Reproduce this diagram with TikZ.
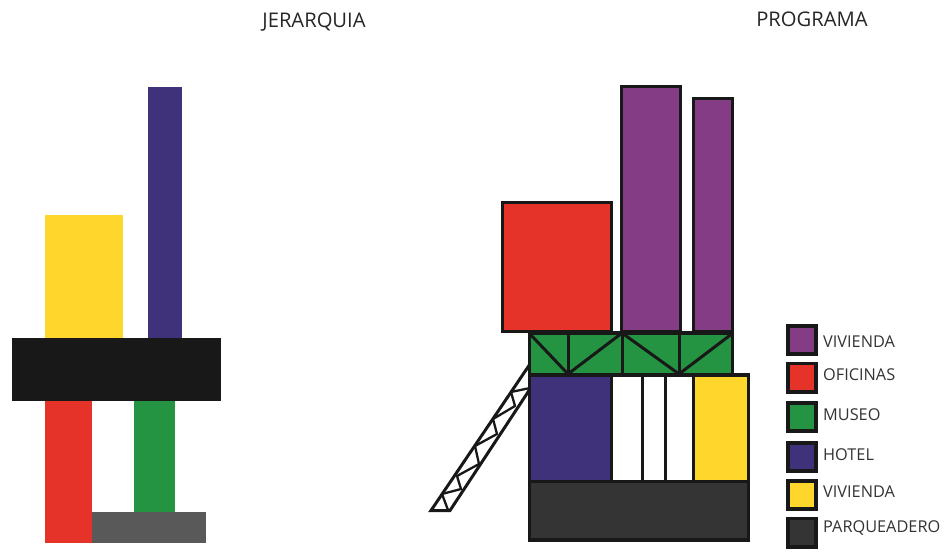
\documentclass[tikz,border=0pt]{standalone}
\usepackage{fontspec}
\setmainfont{Open Sans}
\definecolor{cyel}{HTML}{FFD62B}
\definecolor{cblu}{HTML}{3F327A}
\definecolor{cblk}{HTML}{181818}
\definecolor{cred}{HTML}{E5332A}
\definecolor{cgrn}{HTML}{249443}
\definecolor{cgry}{HTML}{595959}
\definecolor{cpur}{HTML}{843C85}
\definecolor{cdrk}{HTML}{343434}
\tikzset{
 bl/.style={draw=cblk,line width=3.2pt,line join=miter},
 thin line/.style={draw=cblk,line width=3pt},
 ttl/.style={font=\fontsize{20.2}{22}\selectfont,text=black!85,inner sep=0pt},
 leg/.style={font=\fontsize{16.3}{18}\selectfont,text=black!80,anchor=west,inner sep=0pt},
 sw/.style={draw=cblk,line width=3.6pt,minimum width=28.4pt,minimum height=28.4pt,inner sep=0pt},
}
\begin{document}
\begin{tikzpicture}[x=1pt,y=-1pt]
\useasboundingbox (0,0) rectangle (944,552);
\node[ttl] (t1) at (314,22) {JERARQUIA};
\node[ttl] (t2) at (812,19) {PROGRAMA};
% left
\fill[cyel] (45,215) rectangle (123,338);
\fill[cblu] (148,87) rectangle (182,338);
\fill[cred] (45,401) rectangle (92,543);
\fill[cgrn] (134,401) rectangle (175,512);
\fill[cgry] (92,512) rectangle (206,543);
\fill[cblk] (12,338) rectangle (221,401);
% ladder
\coordinate (la) at (530,364);
\coordinate (lb) at (431,510.5);
\coordinate (lc) at (450,510.5);
\coordinate (ld) at (530,389);
\draw[thin line,line join=miter] (la)--(lb)--(lc)--(ld);
\draw[draw=cblk,line width=2.3pt,line join=round] (448,510)--(442,494)--(461,489)--(457,476)--(479,464)--(475,446)--(497,434)--(493,419)--(515,406)--(511,392)--(530,388);
% right
\path[bl,fill=cred] (502.5,202.5) rectangle (611.5,331.5);
\path[bl,fill=cpur] (621.5,86.5) rectangle (680.5,331.5);
\path[bl,fill=cpur] (693.5,98.5) rectangle (732.5,331.5);
\path[bl,fill=cgrn] (529.5,333) rectangle (732.5,375);
\draw[thin line] (568,333)--(568,374) (622,333)--(622,374) (679,333)--(679,374);
\draw[thin line,line join=miter] (529,333)--(568,374)--(622,333)--(679,374)--(733,333);
\path[bl,fill=white] (529.5,375) rectangle (748.5,540);
\path[fill=cblu] (531,376.5) rectangle (610,481);
\path[fill=cyel] (693,376.5) rectangle (747,481);
\path[fill=cdrk] (531,481) rectangle (747,538.5);
\draw[bl] (529.5,375) rectangle (748.5,540);
\draw[thin line] (531,481)--(747,481);
\draw[thin line] (611,376)--(611,481) (642,376)--(642,481) (665,376)--(665,481) (693,376)--(693,481);
% legend
\node[sw,fill=cpur] (s1) at (802,340) {};
\node[sw,fill=cred] (s2) at (802,377.5) {};
\node[sw,fill=cgrn] (s3) at (802,417) {};
\node[sw,fill=cblu] (s4) at (802,457) {};
\node[sw,fill=cyel] (s5) at (802,495) {};
\node[sw,fill=cdrk] (s6) at (802,532.5) {};
\node[leg] at (823,342) {VIVIENDA};
\node[leg] at (823,375) {OFICINAS};
\node[leg] at (823,415) {MUSEO};
\node[leg] at (823,455) {HOTEL};
\node[leg] at (823,492) {VIVIENDA};
\node[leg] at (823,528) {PARQUEADERO};
\end{tikzpicture}
\end{document}
